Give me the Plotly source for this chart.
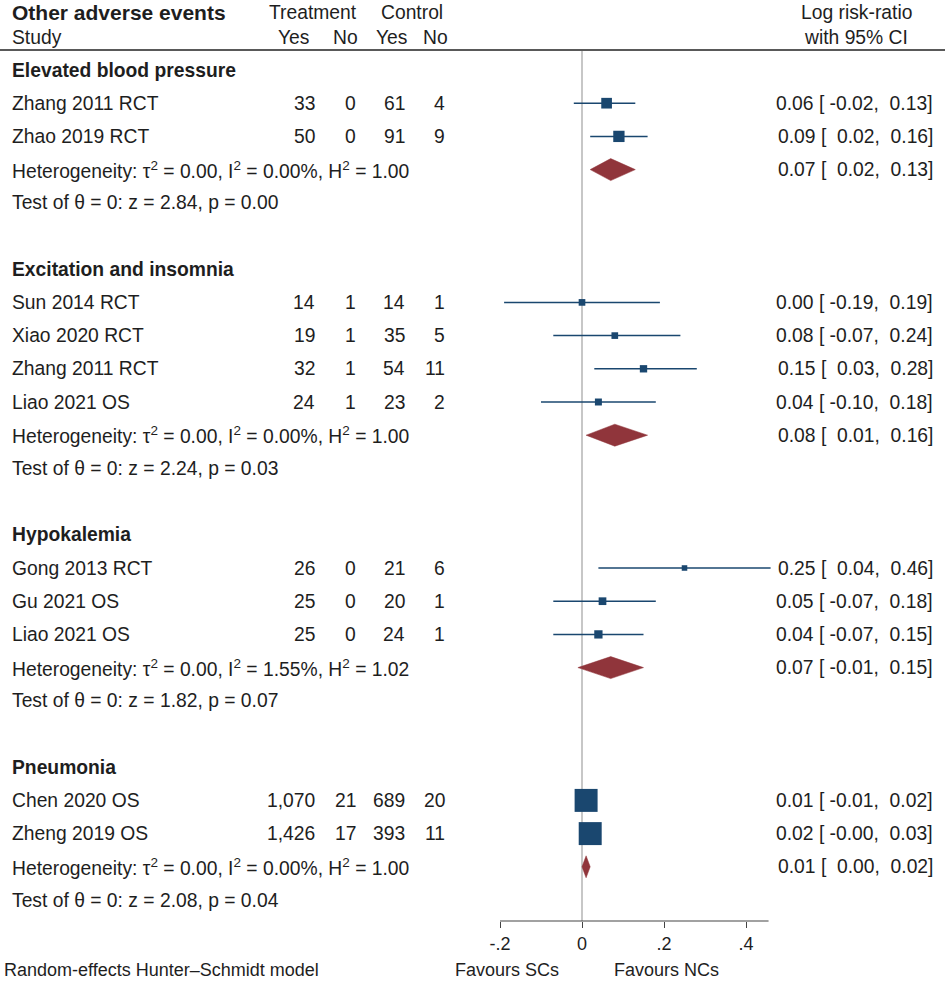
import plotly.graph_objects as go

# ---- data ----
groups = ["Elevated blood pressure", "Excitation and insomnia", "Hypokalemia", "Pneumonia"]
studies = [
    ["Zhang 2011 RCT", "Zhao 2019 RCT"],
    ["Sun 2014 RCT", "Xiao 2020 RCT", "Zhang 2011 RCT", "Liao 2021 OS"],
    ["Gong 2013 RCT", "Gu 2021 OS", "Liao 2021 OS"],
    ["Chen 2020 OS", "Zheng 2019 OS"],
]
treat_yes = [[33, 50], [14, 19, 32, 24], [26, 25, 25], [1070, 1426]]
treat_no = [[0, 0], [1, 1, 1, 1], [0, 0, 0], [21, 17]]
ctrl_yes = [[61, 91], [14, 35, 54, 23], [21, 20, 24], [689, 393]]
ctrl_no = [[4, 9], [1, 5, 11, 2], [6, 1, 1], [20, 11]]
log_rr = [[0.06, 0.09], [0.00, 0.08, 0.15, 0.04], [0.25, 0.05, 0.04], [0.01, 0.02]]
ci_low = [[-0.02, 0.02], [-0.19, -0.07, 0.03, -0.10], [0.04, -0.07, -0.07], [-0.01, -0.003]]
ci_high = [[0.13, 0.16], [0.19, 0.24, 0.28, 0.18], [0.46, 0.18, 0.15], [0.02, 0.03]]
weights = [[10.8, 12.1], [4.2, 4.2, 5.1, 4.6], [2.9, 5.6, 6.5], [50.0, 50.0]]
pooled = [0.07, 0.08, 0.07, 0.01]
pooled_low = [0.02, 0.01, -0.01, 0.00]
pooled_high = [0.13, 0.16, 0.15, 0.02]
tau2 = [0.00, 0.00, 0.00, 0.00]
i2 = [0.00, 0.00, 1.55, 0.00]
h2 = [1.00, 1.00, 1.02, 1.00]
z_stat = [2.84, 2.24, 1.82, 2.08]
p_val = [0.00, 0.03, 0.07, 0.04]
tick_vals = [-0.2, 0, 0.2, 0.4]
tick_text = ["-.2", "0", ".2", ".4"]

# ---- layout geometry (page pixels) ----
W, H = 948, 984
AXIS_PIX = 921          # x axis position
FIRST_ROW_PIX = 70
PITCH = 33.2
X0_PIX, PX_PER_UNIT = 582, 410
PAD = 2                 # annotation box padding around the text

FONT = "Liberation Sans, Arial, sans-serif"
TXT = "#1e1e1e"
NAVY = "#1a476f"
MAROON = "#90353b"
NB = "\u00a0"
BODY = 19.3


def row_of(pix):
    return 1 + (pix - FIRST_ROW_PIX) / PITCH


def fmt_ci(e, lo, hi):
    return f"{e:.2f} [{lo:6.2f}, {hi:5.2f}]".replace(" ", NB)


annotations = []


def label(text, xpix, row, anchor="left", size=BODY, yref="y"):
    if anchor == "left":
        xpix -= PAD
    elif anchor == "right":
        xpix += PAD
    annotations.append(dict(
        x=max(xpix, 0) / W, xref="paper", y=row, yref=yref, text=text,
        showarrow=False, xanchor=anchor, yanchor="middle",
        font=dict(family=FONT, size=size, color=TXT)))


# headers
label("<b>Other adverse events</b>", 12, row_of(12), size=21)
label("Treatment", 313, row_of(12), anchor="center")
label("Control", 412, row_of(12), anchor="center")
label("Log risk-ratio", 856, row_of(12), anchor="center")
label("Study", 12, row_of(37))
for txt, xr in zip(["Yes", "No", "Yes", "No"], [309, 358, 407, 448]):
    label(txt, xr, row_of(37), anchor="right")
label("with 95% CI", 856, row_of(37), anchor="center")

ci_x, ci_y = [], []
sq_x, sq_y, sq_s = [], [], []
dia_x, dia_y = [], []
DH = 11 / PITCH  # diamond half height in rows

r = 1
for g in range(len(groups)):
    label(f"<b>{groups[g]}</b>", 12, r)
    r += 1
    for i, name in enumerate(studies[g]):
        label(name, 12, r)
        cols = [treat_yes[g][i], treat_no[g][i], ctrl_yes[g][i], ctrl_no[g][i]]
        for v, xr in zip(cols, [315, 356, 405, 445]):
            label(f"{v:,}", xr, r, anchor="right")
        label(fmt_ci(log_rr[g][i], ci_low[g][i], ci_high[g][i]), 933, r, anchor="right")
        ci_x += [ci_low[g][i], ci_high[g][i], None]
        ci_y += [r, r, None]
        sq_x.append(log_rr[g][i])
        sq_y.append(r)
        sq_s.append(3.25 * weights[g][i] ** 0.5)
        r += 1
    label(f"Heterogeneity: \u03c4<sup>2</sup> = {tau2[g]:.2f}, I<sup>2</sup> = {i2[g]:.2f}%, "
          f"H<sup>2</sup> = {h2[g]:.2f}", 12, r)
    label(fmt_ci(pooled[g], pooled_low[g], pooled_high[g]), 933, r, anchor="right")
    dia_x += [pooled_low[g], pooled[g], pooled_high[g], pooled[g], pooled_low[g], None]
    dia_y += [r, r - DH, r, r + DH, r, None]
    r += 1
    label(f"Test of \u03b8 = 0: z = {z_stat[g]:.2f}, p = {p_val[g]:.2f}", 12, r)
    r += 2

# footer (below plot area)
foot_y = (AXIS_PIX - 970) / AXIS_PIX
label("Random-effects Hunter\u2013Schmidt model", 4, foot_y, yref="paper", size=18)
label("Favours SCs", 507, foot_y, anchor="center", yref="paper", size=18)
label("Favours NCs", 666, foot_y, anchor="center", yref="paper", size=18)

fig = go.Figure()
fig.add_trace(go.Scatter(x=ci_x, y=ci_y, mode="lines",
                         line=dict(color=NAVY, width=1.5), hoverinfo="skip"))
fig.add_trace(go.Scatter(x=dia_x, y=dia_y, mode="lines", fill="toself",
                         fillcolor=MAROON, line=dict(color=MAROON, width=0.5),
                         hoverinfo="skip"))
fig.add_trace(go.Scatter(x=sq_x, y=sq_y, mode="markers",
                         marker=dict(symbol="square", size=sq_s, color=NAVY,
                                     opacity=1, line=dict(width=0))))

y_top = row_of(0)
y_bot = row_of(AXIS_PIX)
x_left = -X0_PIX / PX_PER_UNIT
x_right = (W - X0_PIX) / PX_PER_UNIT

shapes = [
    # header rule
    dict(type="line", xref="paper", yref="y", x0=0, x1=945 / W,
         y0=row_of(50), y1=row_of(50), line=dict(color="#222", width=1.5)),
    # line of no effect
    dict(type="line", xref="x", yref="y", x0=0, x1=0,
         y0=row_of(51), y1=y_bot, line=dict(color="#b4b4b4", width=1.5), layer="below"),
    # x axis line
    dict(type="line", xref="x", yref="paper", x0=-0.2, x1=0.455, y0=0, y1=0,
         line=dict(color="#444", width=1.2)),
]

fig.update_layout(
    width=W, height=H,
    margin=dict(l=0, r=0, t=0, b=H - AXIS_PIX),
    paper_bgcolor="white", plot_bgcolor="white",
    showlegend=False,
    annotations=annotations,
    shapes=shapes,
    xaxis=dict(range=[x_left, x_right], showgrid=False, zeroline=False,
               showline=False, tickvals=tick_vals, ticktext=tick_text,
               ticks="outside", ticklen=6, tickcolor="#444", tickwidth=1.2,
               tickfont=dict(family=FONT, size=18, color=TXT), fixedrange=True),
    yaxis=dict(range=[y_bot, y_top], showgrid=False, zeroline=False,
               showline=False, showticklabels=False, fixedrange=True),
)

# drop the default page margin so the figure sits at the window corner
fig.write_html("out.html", config={"displayModeBar": False},
               post_script="document.body.style.margin='0px';document.body.style.overflow='hidden';")
